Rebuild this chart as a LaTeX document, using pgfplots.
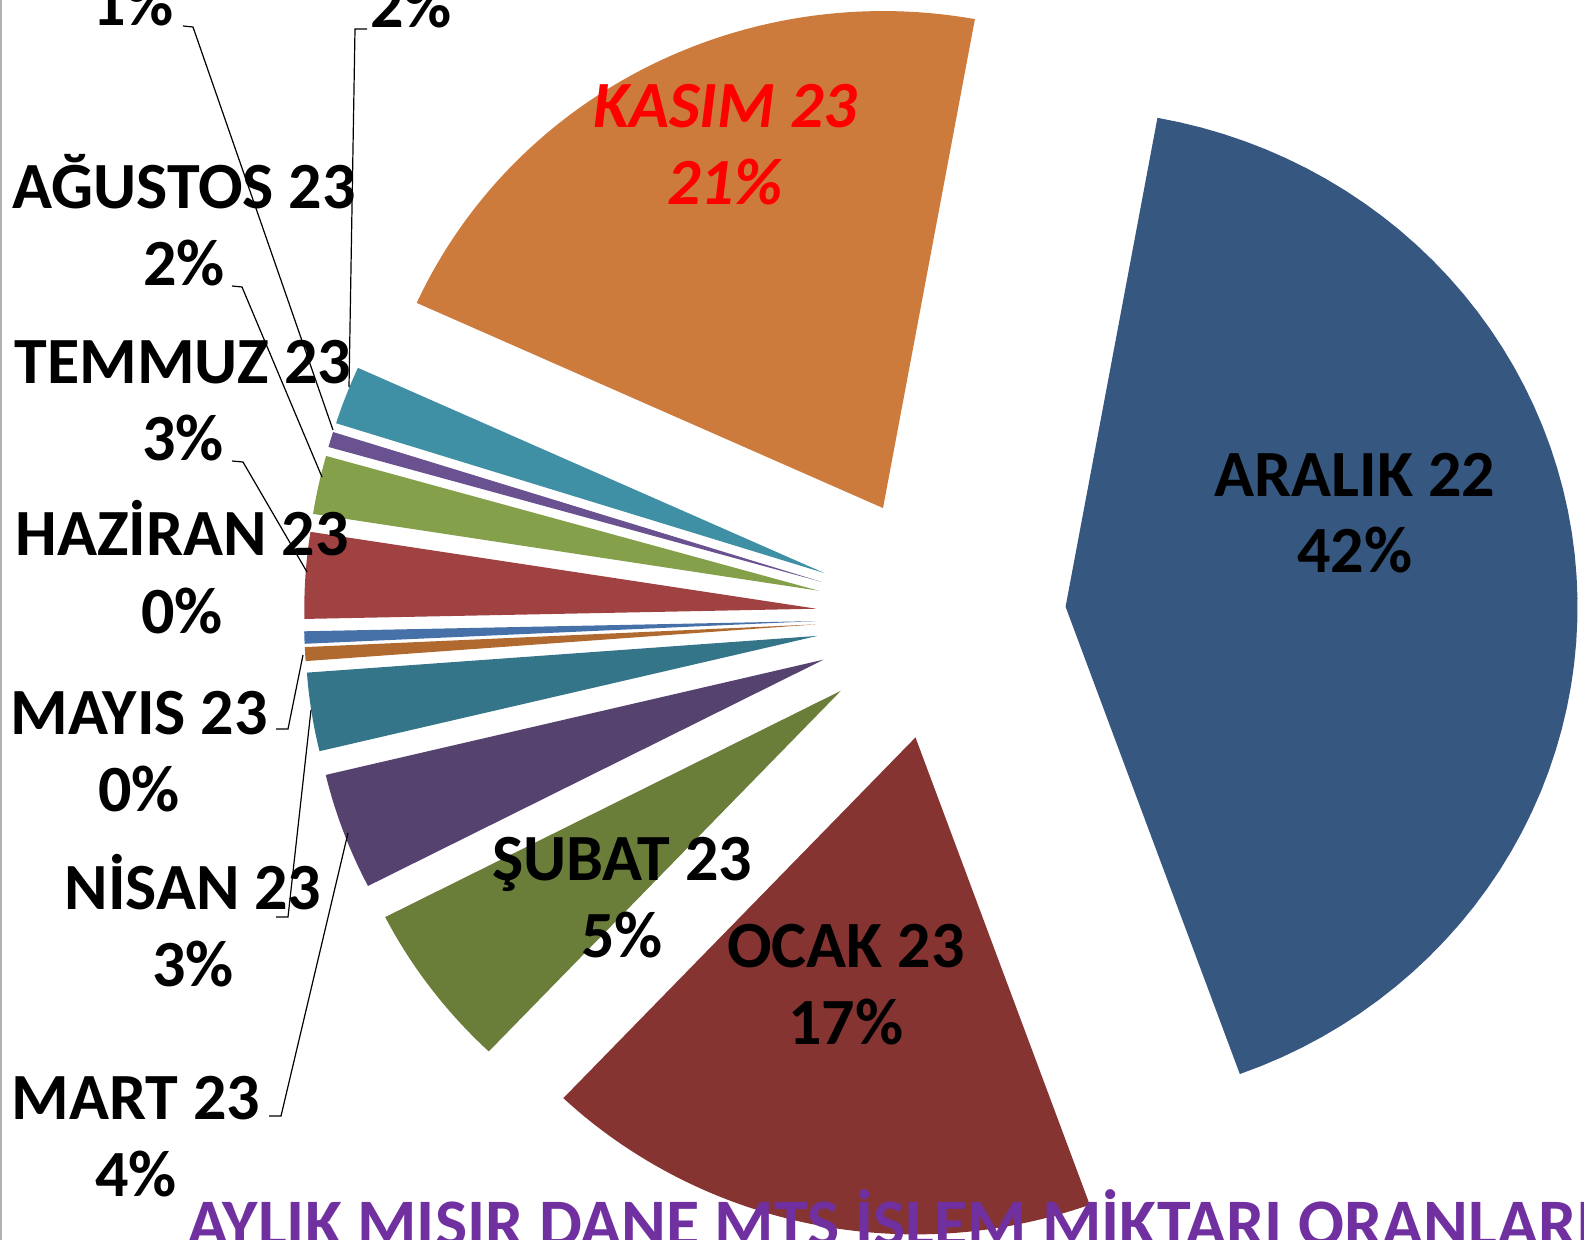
\documentclass[border=0pt]{standalone}
\usepackage{fontspec}
\setmainfont{Carlito}
\usepackage{pgfplots}
\usepackage{pgfplotstable}
\pgfplotsset{compat=1.18}

\definecolor{cAra}{HTML}{36577F}
\definecolor{cKas}{HTML}{CC7B3C}
\definecolor{cEki}{HTML}{3F8FA5}
\definecolor{cEyl}{HTML}{6A5190}
\definecolor{cAgu}{HTML}{85A04B}
\definecolor{cTem}{HTML}{A04242}
\definecolor{cHaz}{HTML}{4670A8}
\definecolor{cMay}{HTML}{B06A30}
\definecolor{cNis}{HTML}{34758A}
\definecolor{cMar}{HTML}{56426F}
\definecolor{cSub}{HTML}{6A7E3A}
\definecolor{cOca}{HTML}{853432}
\definecolor{baslik}{HTML}{7030A0}

% aylara gore pay (%), dilim rengi
\pgfplotstableread[col sep=comma]{
ay,pay,renk
ARALIK 22,41.6,cAra
KASIM 23,21.1,cKas
EKIM 23,1.9,cEki
EYLUL 23,0.5,cEyl
AGUSTOS 23,1.9,cAgu
TEMMUZ 23,2.8,cTem
HAZIRAN 23,0.4,cHaz
MAYIS 23,0.45,cMay
NISAN 23,2.55,cNis
MART 23,3.8,cMar
SUBAT 23,5.4,cSub
OCAK 23,17.6,cOca
}\pasta

\newcommand\lbl{\fontsize{33}{40}\selectfont\bfseries}
\newcommand\etiket[5]{%
  \node[anchor=base,font=\lbl] at (axis cs:#1,#2) {#4};
  \node[anchor=base,font=\lbl] at (axis cs:#1,#3) {#5};}

\begin{document}
\begin{tikzpicture}
\begin{axis}[scale only axis,x=0.5pt,y=0.5pt,y dir=reverse,
  xmin=0,xmax=1584,ymin=0,ymax=1240,hide axis,clip=true]
\xdef\baslangic{-70.1}
\pgfplotsforeachungrouped \i in {0,...,11}{%
  \pgfplotstablegetelem{\i}{pay}\of\pasta \let\pay\pgfplotsretval
  \pgfplotstablegetelem{\i}{renk}\of\pasta \let\renk\pgfplotsretval
  \pgfmathsetmacro\ba{\baslangic}
  \pgfmathsetmacro\bi{\baslangic+3.6*\pay}
  \pgfmathsetmacro\orta{(\ba+\bi)/2}
  \pgfmathsetmacro\tx{941+125*cos(\orta)}
  \pgfmathsetmacro\ty{617-123*sin(\orta)}
  \edef\dilim{\noexpand\addplot[fill=\renk,draw=none,domain=\ba:\bi,samples=60]
    ({\tx+512*cos(x)},{\ty-497*sin(x)}) -- (axis cs:\tx,\ty) -- cycle;}
  \dilim
  \xdef\baslangic{\bi}
}

% leader lines
\draw[line width=0.6pt] (axis cs:183,26) -- (axis cs:193,27) -- (axis cs:333,430);
\draw[line width=0.6pt] (axis cs:367,29) -- (axis cs:355,29) -- (axis cs:349,387);
\draw[line width=0.6pt] (axis cs:232,286) -- (axis cs:242,287) -- (axis cs:322,477);
\draw[line width=0.6pt] (axis cs:232,461) -- (axis cs:243,462) -- (axis cs:307,572);
\draw[line width=0.6pt] (axis cs:276,729) -- (axis cs:288,729) -- (axis cs:303,655);
\draw[line width=0.6pt] (axis cs:276,917) -- (axis cs:288,917) -- (axis cs:311,710);
\draw[line width=0.6pt] (axis cs:269,1116) -- (axis cs:281,1116) -- (axis cs:348,833);

% labels
\etiket{1355}{497}{573}{ARALIK 22}{42\%}
\node[anchor=base,font=\lbl\itshape,text=red] at (axis cs:725,128) {KASIM 23};
\node[anchor=base,font=\lbl\itshape,text=red] at (axis cs:725,205) {21\%};
\etiket{846}{967}{1044}{OCAK 23}{17\%}
\etiket{622}{880}{957}{ŞUBAT 23}{5\%}
\etiket{184}{209}{286}{AĞUSTOS 23}{2\%}
\etiket{183}{384}{461}{TEMMUZ 23}{3\%}
\etiket{182}{556}{633}{HAZİRAN 23}{0\%}
\etiket{139}{734}{811}{MAYIS 23}{0\%}
\etiket{193}{909}{986}{NİSAN 23}{3\%}
\etiket{136}{1119}{1196}{MART 23}{4\%}
\etiket{133}{-51}{26}{EYLÜL 23}{1\%}
\etiket{411}{-49}{28}{EKİM 23}{2\%}

\node[anchor=base west,text=baslik,font=\fontsize{34}{41}\selectfont\bfseries]
  at (axis cs:180,1246) {AYLIK MISIR DANE MTS İŞLEM MİKTARI ORANLARI};

\draw[gray!60,line width=0.8pt] (axis cs:1,0) -- (axis cs:1,1240);
\end{axis}
\pgfresetboundingbox
\path (current axis.south west) rectangle (current axis.north east);
\end{tikzpicture}
\end{document}
